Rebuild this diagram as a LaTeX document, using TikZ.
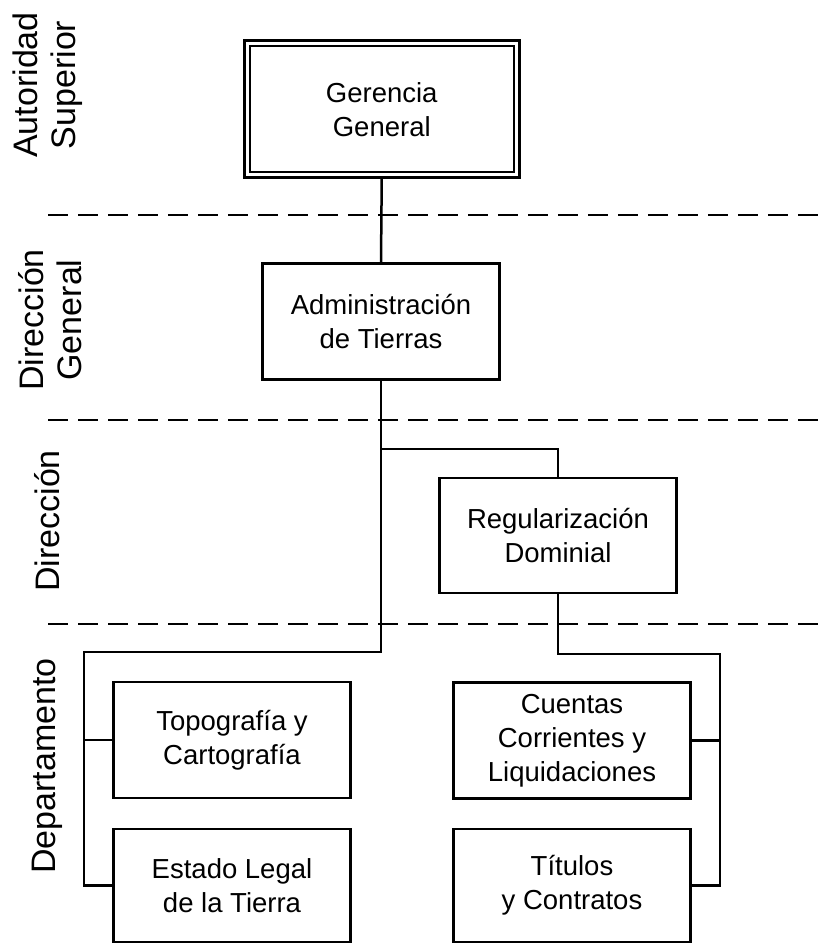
\documentclass[tikz,border=0pt]{standalone}
\usepackage{fontspec}
\setmainfont{Liberation Sans}
\usepackage{tikz}
\usetikzlibrary{calc}
\tikzset{
    unit/.style ={draw, line width = 2.5pt, align = center, inner sep = 0pt,
        minimum width = \W pt, minimum height = \H pt,
        font = \fontsize{27.5}{34}\selectfont},
    level/.style ={rotate = 90, align = center, inner sep = 0pt,
        font = \fontsize{34}{38}\selectfont},
    sep/.style ={line width = 2.5pt, dash pattern = on 20pt off 10pt}
}

\begin{document}
\begin{tikzpicture}[x = 1pt, y = -1pt, line width = 2.5pt]

\def\W{237} % Defines the width of the boxes
\def\H{116} % Defines the height of the boxes
\def\L{48}  % Defines where the level lines start
\useasboundingbox (0, 0) rectangle (824, 944);

    % levels
    \foreach \y in {215, 420, 624}{
        \draw [sep] (\L, \y) -- (824, \y);
        }
    \node (lvA) at (48, 85)  [level]{Autoridad\\Superior};
    \node (lvG) at (50, 320) [level]{Dirección\\General};
    \node (lvD) at (47, 521) [level]{Dirección};
    \node (lvP) at (47, 766) [level]{Departamento};

    % boxes
    \node (GG) at (381.75, 109.25) [unit, double, double distance = 3pt,
        minimum width = 269.5pt, minimum height = 131.5pt]{Gerencia\\General};
    \node (AT) at (381, 321.5)  [unit]{Administración\\de Tierras};
    \node (RD) at (558, 535.5)  [unit, minimum height = 115pt]{Regularización\\Dominial};
    \node (TC) at (232, 740)    [unit]{Topografía y\\Cartografía};
    \node (EL) at (232, 885.5)  [unit, minimum height = 113pt]{Estado Legal\\de la Tierra};
    \node (CL) at (572, 740.5)  [unit]{Cuentas\\Corrientes y\\Liquidaciones};
    \node (TY) at (572, 885.5)  [unit, minimum height = 113pt]{Títulos\\y Contratos};

    % lines
    \coordinate (split) at (381, 449);
    \coordinate (lbus)  at (84, 652);
    \coordinate (rbus)  at (720, 654);
    \draw (GG.south) -- (AT.north);
    \draw (AT.south) -- (split) -| (RD.north);
    \draw (split) |- (lbus) |- (EL.west);
    \draw (TC.west) -- (TC.west -| lbus);
    \draw (RD.south) |- (rbus) |- (TY.east);
    \draw (CL.east) -- (CL.east -| rbus);
\end{tikzpicture}
\end{document}
